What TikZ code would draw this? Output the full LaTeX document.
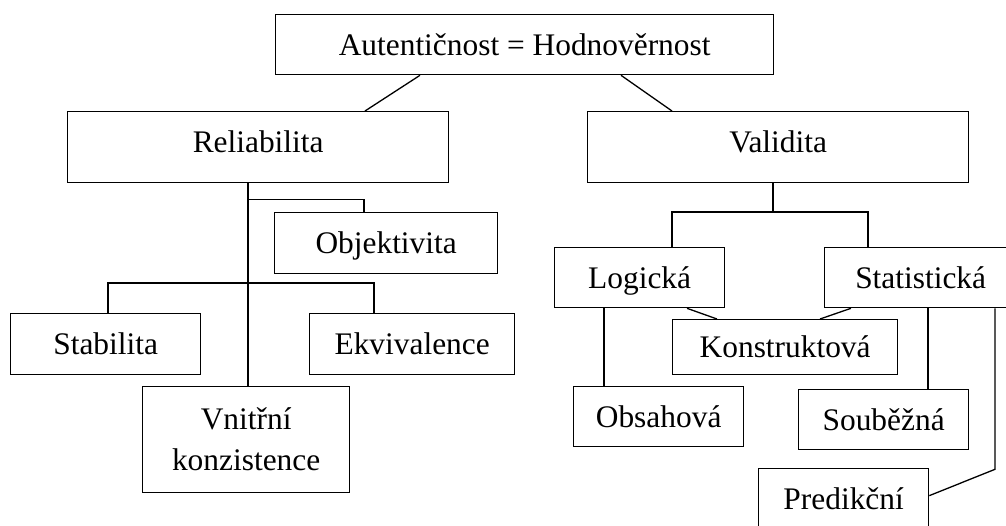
\documentclass[tikz,border=0pt]{standalone}
\usepackage{fontspec}
\setmainfont{Liberation Serif}
\begin{document}
\begin{tikzpicture}[x=1pt,y=-1pt,
  boxbase/.style={draw, line width=1.3pt, inner sep=0pt, anchor=north west,
    font=\fontsize{31.4}{41}\selectfont},
  box/.style={boxbase, text height=20.8pt, text depth=0pt},
  con/.style={line width=1.3pt, line join=miter}]
\useasboundingbox (0,0) rectangle (1006,525);
\clip (0,0) rectangle (1006,525);
% nodes
\node[box, minimum width=498pt, minimum height=60pt] (top) at (275,14) {Autentičnost = Hodnověrnost};
\node[box, minimum width=381pt, minimum height=71pt, text depth=10pt] (rel) at (67,111) {Reliabilita};
\node[box, minimum width=381pt, minimum height=71pt, text depth=10pt] (val) at (587,111) {Validita};
\node[box, minimum width=223pt, minimum height=61pt] (obj) at (274,212) {Objektivita};
\node[box, minimum width=190pt, minimum height=61pt] (stab) at (10,313) {Stabilita};
\node[box, minimum width=205pt, minimum height=61pt] (ekv) at (309,313) {Ekvivalence};
\node[boxbase, minimum width=207pt, minimum height=106pt, align=center] (vnit) at (142,386) {Vnitřní\\konzistence};
\node[box, minimum width=170pt, minimum height=60pt] (log) at (554,247) {Logická};
\node[box, minimum width=192pt, minimum height=60pt] (stat) at (824,247) {Statistická};
\node[box, minimum width=225pt, minimum height=55pt] (kon) at (672,319) {Konstruktová};
\node[box, minimum width=170pt, minimum height=60pt] (obs) at (573,386) {Obsahová};
\node[box, minimum width=170pt, minimum height=60pt] (soub) at (798,389) {Souběžná};
\node[box, minimum width=170pt, minimum height=60pt] (pred) at (758,468) {Predikční};
% connectors
\draw[con] ([xshift=145pt]top.south west) -- ([xshift=298pt]rel.north west);
\draw[con] ([xshift=346pt]top.south west) -- ([xshift=85pt]val.north west);
% reliabilita tree
\draw[con] ([xshift=181pt]rel.south west) -- ([xshift=106pt]vnit.north west);
\draw[con] ([xshift=181pt,yshift=-16pt]rel.south west) -| ([xshift=90pt]obj.north west);
\draw[con] ([xshift=98pt]stab.north west) -- ++(0,-30) -| ([xshift=65pt]ekv.north west);
% validita tree
\draw[con] ([xshift=186pt]val.south west) -- ++(0,30);
\draw[con] ([xshift=118pt]log.north west) -- ++(0,-35) -| ([xshift=44pt]stat.north west);
\draw[con] ([xshift=133pt]log.south west) -- ([xshift=45pt]kon.north west);
\draw[con] ([xshift=27pt]stat.south west) -- ([xshift=148pt]kon.north west);
\draw[con] ([xshift=50pt]log.south west) -- ([xshift=31pt]obs.north west);
\draw[con] ([xshift=104pt]stat.south west) -- ([xshift=130pt]soub.north west);
\draw[con] ([xshift=171pt]stat.south west) -- ++(0,161) -- ([yshift=3pt]pred.east);
\end{tikzpicture}
\end{document}
